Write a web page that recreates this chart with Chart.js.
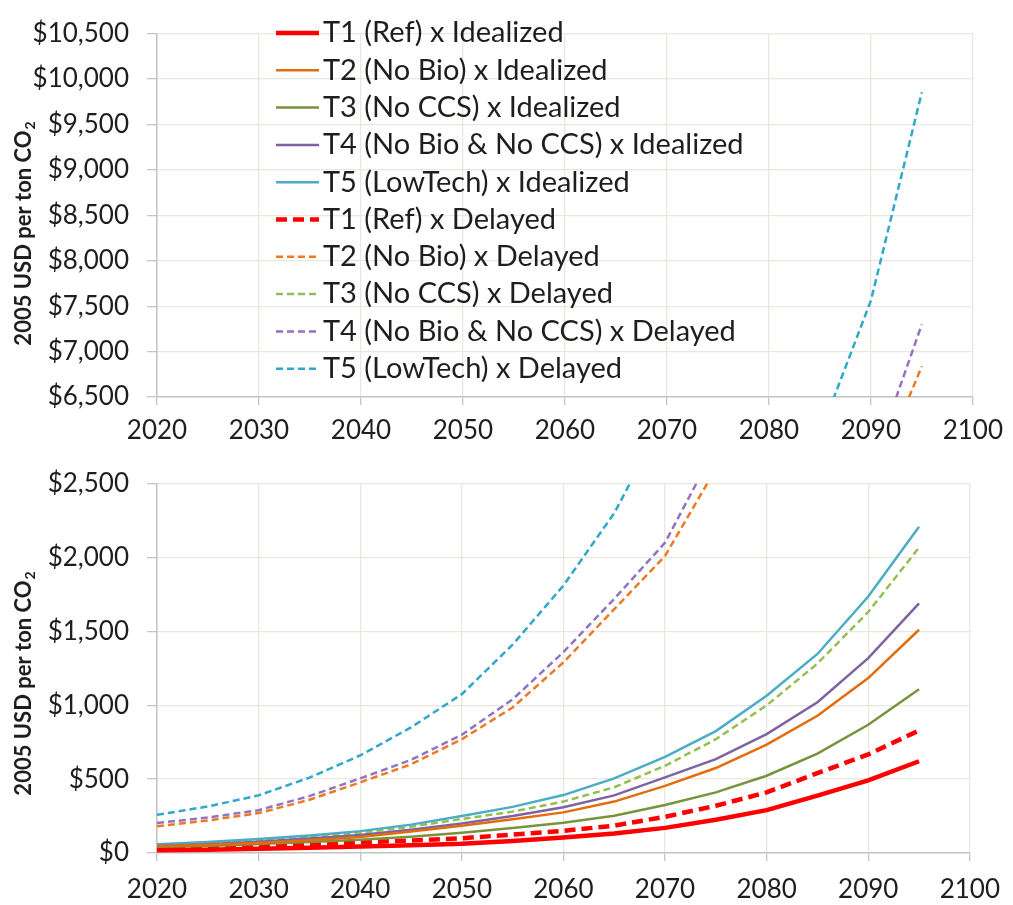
<!DOCTYPE html>
<html>
<head>
<meta charset="utf-8">
<script src="https://cdn.jsdelivr.net/npm/chart.js@4"></script>
<style>
  body { margin: 0; background: #fff; }
  canvas { position: absolute; left: 0; }
  #topChart { top: 0; }
  #bottomChart { top: 450px; }
</style>
</head>
<body>
<canvas id="topChart" width="1013" height="450"></canvas>
<canvas id="bottomChart" width="1013" height="455"></canvas>
<script>
// years with model output (every 5 years)
const years = [2020, 2025, 2030, 2035, 2040, 2045, 2050, 2055, 2060, 2065, 2070, 2075, 2080, 2085, 2090, 2095];

// carbon price, 2005 USD per ton CO2
const t1Idealized = [18, 22, 29, 36, 44, 52, 63, 82, 105, 132, 170, 225, 290, 388, 491, 621];
const t2Idealized = [45, 55, 68, 86, 109, 145, 185, 228, 275, 348, 454, 575, 733, 929, 1184, 1511];
const t3Idealized = [40, 48, 61, 75, 89, 110, 137, 170, 205, 252, 325, 410, 523, 672, 868, 1108];
const t4Idealized = [48, 60, 76, 98, 122, 158, 200, 250, 310, 390, 512, 635, 805, 1020, 1319, 1690];
const t5Idealized = [60, 75, 94, 118, 148, 192, 250, 312, 392, 505, 650, 825, 1064, 1347, 1736, 2208];
const t1Delayed = [35, 42, 50, 60, 72, 85, 100, 125, 150, 185, 245, 320, 410, 541, 667, 829];
const t2Delayed = [181, 220, 270, 360, 478, 600, 770, 985, 1290, 1650, 2010, 2600, 3350, 4300, 5480, 6840];
const t3Delayed = [50, 65, 83, 108, 137, 178, 230, 280, 348, 445, 590, 770, 999, 1282, 1631, 2067];
const t4Delayed = [203, 240, 290, 385, 505, 630, 800, 1040, 1360, 1720, 2100, 2750, 3500, 4450, 5700, 7300];
const t5Delayed = [258, 315, 390, 510, 660, 850, 1075, 1410, 1810, 2300, 2950, 3750, 4800, 6090, 7560, 9855];

const xTicks = [2020, 2030, 2040, 2050, 2060, 2070, 2080, 2090, 2100];
const topRange = [6500, 10500];
const bottomRange = [0, 2500];

const gridColor = '#e9e7de';
const axisColor = '#c4c4c4';
const textColor = '#1e1e1e';
const fontFamily = 'Lato, "Open Sans", sans-serif';

function series() {
  const mk = (label, vals, color, width, dash) => ({
    label: label,
    data: vals.map((v, i) => ({ x: years[i], y: v })),
    borderColor: color,
    borderWidth: width,
    borderDash: dash,
    pointRadius: 0,
    tension: 0,
    fill: false
  });
  return [
    mk('T1 (Ref) x Idealized', t1Idealized, '#ff0000', 4.5, []),
    mk('T2 (No Bio) x Idealized', t2Idealized, '#e46c0a', 2.5, []),
    mk('T3 (No CCS) x Idealized', t3Idealized, '#77933c', 2.5, []),
    mk('T4 (No Bio & No CCS) x Idealized', t4Idealized, '#7f62a2', 2.5, []),
    mk('T5 (LowTech) x Idealized', t5Idealized, '#4bacc6', 2.5, []),
    mk('T1 (Ref) x Delayed', t1Delayed, '#ff0000', 4.5, [11, 6]),
    mk('T2 (No Bio) x Delayed', t2Delayed, '#f07822', 2.5, [7, 4]),
    mk('T3 (No CCS) x Delayed', t3Delayed, '#92c050', 2.5, [7, 4]),
    mk('T4 (No Bio & No CCS) x Delayed', t4Delayed, '#9272c2', 2.5, [7, 4]),
    mk('T5 (LowTech) x Delayed', t5Delayed, '#31a7cb', 2.5, [7, 4])
  ];
}

// rotated axis title with a subscript 2
const yTitle = {
  id: 'yTitle',
  afterDraw(chart, args, opts) {
    const ctx = chart.ctx;
    const main = '2005 USD per ton CO';
    ctx.save();
    ctx.translate(opts.x, opts.y);
    ctx.rotate(-Math.PI / 2);
    ctx.fillStyle = textColor;
    ctx.textBaseline = 'middle';
    ctx.font = 'bold 22px ' + fontFamily;
    const w1 = ctx.measureText(main).width;
    ctx.font = 'bold 14px ' + fontFamily;
    const w2 = ctx.measureText('2').width;
    const start = -(w1 + w2) / 2;
    ctx.font = 'bold 22px ' + fontFamily;
    ctx.fillText(main, start, 0);
    ctx.font = 'bold 14px ' + fontFamily;
    ctx.fillText('2', start + w1 + 1, 6);
    ctx.restore();
  }
};

// legend drawn inside the plot of the upper panel
const legendBox = {
  id: 'legendBox',
  afterDraw(chart, args, opts) {
    if (!opts.show) return;
    const ctx = chart.ctx;
    chart.data.datasets.forEach((ds, i) => {
      const y = opts.top + i * opts.step;
      ctx.save();
      ctx.strokeStyle = ds.borderColor;
      ctx.lineWidth = ds.borderWidth;
      ctx.setLineDash(ds.borderDash);
      ctx.beginPath();
      ctx.moveTo(opts.x0, y);
      ctx.lineTo(opts.x1, y);
      ctx.stroke();
      ctx.restore();
      ctx.fillStyle = textColor;
      ctx.font = '29px ' + fontFamily;
      ctx.textBaseline = 'middle';
      ctx.fillText(ds.label, opts.x1 + 4, y);
    });
  }
};

function options(range, plotTop, plotBottom, canvasH, rightPad, labelPad, showLegend) {
  return {
    responsive: false,
    animation: false,
    devicePixelRatio: 1,
    layout: { padding: { top: plotTop, right: rightPad, left: 0, bottom: 0 } },
    plugins: {
      legend: { display: false },
      tooltip: { enabled: false },
      yTitle: { x: 24, y: 234 },
      legendBox: { show: showLegend, top: 33, step: 37.3, x0: 276, x1: 319 }
    },
    scales: {
      x: {
        type: 'linear',
        min: xTicks[0],
        max: xTicks[xTicks.length - 1],
        afterBuildTicks: s => { s.ticks = xTicks.map(v => ({ value: v })); },
        ticks: { color: textColor, font: { family: fontFamily, size: 26 }, padding: labelPad, maxRotation: 0, callback: v => String(v) },
        grid: { color: gridColor, tickColor: axisColor, tickLength: 8, lineWidth: 1.3 },
        border: { color: axisColor, width: 1.5 },
        afterFit: s => { s.height = canvasH - plotBottom; }
      },
      y: {
        min: range[0],
        max: range[1],
        ticks: { stepSize: 500, color: textColor, font: { family: fontFamily, size: 26 }, padding: 18,
                 callback: v => '$' + v.toLocaleString('en-US') },
        grid: { color: gridColor, tickColor: axisColor, tickLength: 10, lineWidth: 1.3 },
        border: { color: axisColor, width: 1.5 },
        afterFit: s => { s.width = 157; }
      }
    }
  };
}

function build() {
  new Chart(document.getElementById('topChart'), {
    type: 'line',
    data: { datasets: series() },
    options: options(topRange, 23, 397, 450, 32, 10, true),
    plugins: [yTitle, legendBox]
  });
  new Chart(document.getElementById('bottomChart'), {
    type: 'line',
    data: { datasets: series() },
    options: options(bottomRange, 20, 403, 455, 41, 13, false),
    plugins: [yTitle, legendBox]
  });
}

Promise.all([document.fonts.load('26px Lato'), document.fonts.load('bold 22px Lato')])
  .then(build, build);
</script>
</body>
</html>
